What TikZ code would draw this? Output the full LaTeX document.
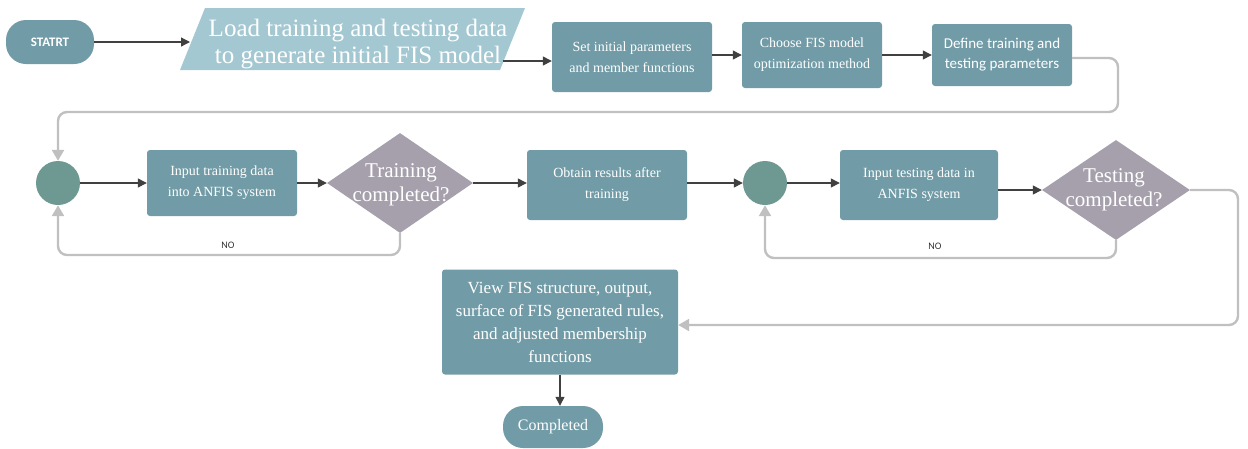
\documentclass[tikz,border=0pt]{standalone}
\usepackage{fontspec}
\setmainfont{Liberation Serif}
\newfontfamily\carl{Carlito}
\usetikzlibrary{shapes.geometric,arrows.meta}
\definecolor{boxc}{RGB}{113,155,166}
\definecolor{parc}{RGB}{164,200,210}
\definecolor{circc}{RGB}{110,152,146}
\definecolor{diac}{RGB}{166,160,173}
\definecolor{loopc}{RGB}{192,192,192}
\definecolor{arrc}{RGB}{64,64,64}
\tikzset{
  procbox/.style={fill=boxc, rounded corners=3pt, text=white, align=center, inner sep=2pt},
  smalltext/.style={font=\fontsize{14}{21}\selectfont},
  pill/.style={fill=boxc, rounded corners=20pt, text=white, align=center},
  junc/.style={circle, fill=circc, minimum size=44pt, inner sep=0pt},
  dec/.style={diamond, fill=diac, inner sep=0pt},
  dectext/.style={text=white, align=center, font=\fontsize{21}{24}\selectfont},
  darr/.style={draw=arrc, line width=1.3pt, -{Triangle[length=9pt,width=9pt]}},
  garr/.style={draw=loopc, line width=2.4pt, rounded corners=9pt, -{Triangle[length=11pt,width=12pt]}},
  nolab/.style={font=\carl\fontsize{10}{11}\selectfont, text=black!80}
}
\begin{document}
\begin{tikzpicture}[x=1pt,y=-1pt]
\useasboundingbox (0,0) rectangle (1248,448);
% row 1
\node[pill, minimum width=88pt, minimum height=44pt, font=\carl\bfseries\fontsize{13}{14}\selectfont] (start) at (50,42) {STATRT};
\coordinate (p1) at (180,70);
\coordinate (p2) at (205,8);
\coordinate (p3) at (525,8);
\coordinate (p4) at (500,70);
\fill[parc] (p1) -- (p2) -- (p3) -- (p4) -- cycle;
\node[text=white, align=center, font=\fontsize{25}{27}\selectfont] (load) at (358,44) {Load training and testing data\\to generate initial FIS model};
\coordinate (loadin) at (190,42);
\coordinate (loadout) at (503,61);
\node[procbox, smalltext, minimum width=160pt, minimum height=70pt] (set) at (632,57) {Set initial parameters\\and member functions};
\node[procbox, smalltext, minimum width=140pt, minimum height=66pt] (choose) at (812,55) {Choose FIS model\\optimization method};
\node[procbox, minimum width=140pt, minimum height=62pt, font=\carl\fontsize{15}{20}\selectfont] (define) at (1002,55) {Define training and\\testing parameters};
\draw[darr] (start.east) -- (loadin);
\draw[darr] (loadout) -- (loadout -| set.west);
\draw[darr] (set.east |- choose) -- (choose.west);
\draw[darr] (choose.east) -- (define.west);
% row 2
\node[junc] (c1) at (58,183) {};
\node[procbox, smalltext, minimum width=150pt, minimum height=66pt] (in1) at (222,183) {Input training data\\into ANFIS system};
\node[dec, minimum width=146pt, minimum height=100pt] (d1) at (400,183) {};
\node[dectext] (d1t) at (401,185) {Training\\completed?};
\node[procbox, smalltext, minimum width=160pt, minimum height=70pt] (obtain) at (607,185) {Obtain results after\\training};
\node[junc] (c2) at (765,183) {};
\node[procbox, smalltext, minimum width=158pt, minimum height=70pt] (in2) at (919,185) {Input testing data in\\ANFIS system};
\node[dec, minimum width=148pt, minimum height=100pt] (d2) at (1116,190) {};
\node[dectext] (d2t) at (1114,190) {Testing\\completed?};
\draw[darr] (c1.east) -- (in1.west);
\draw[darr] (in1.east) -- (d1.west);
\draw[darr] (d1.east) -- (obtain.west |- d1);
\draw[darr] (obtain.east |- c2) -- (c2.west);
\draw[darr] (c2.east) -- (in2.west |- c2);
\draw[darr] (in2.east |- d2) -- (d2.west);
% loops
\draw[garr] (define.east |- 0,58) -- (1118,58) -- (1118,112) -- (58,112) -- (c1.north);
\draw[garr] (d1.south) -- (400,255) -- (58,255) -- (c1.south);
\node[nolab] (no1) at (228,245) {NO};
\draw[garr] (d2.south) -- (1116,258) -- (765,258) -- (c2.south);
\node[nolab] (no2) at (935,246) {NO};
% final
\node[procbox, minimum width=236pt, minimum height=105pt, font=\fontsize{17}{23}\selectfont] (view) at (560,322) {View FIS structure, output,\\surface of FIS generated rules,\\and adjusted membership\\functions};
\node[pill, minimum width=100pt, minimum height=42pt, font=\fontsize{16}{18}\selectfont] (comp) at (553,427) {Completed};
\draw[garr] (d2.east) -- (1238,190) -- (1238,325) -- (view.east |- 0,325);
\draw[darr] (view.south -| 560,0) -- (comp.north -| 560,0);
\end{tikzpicture}
\end{document}
